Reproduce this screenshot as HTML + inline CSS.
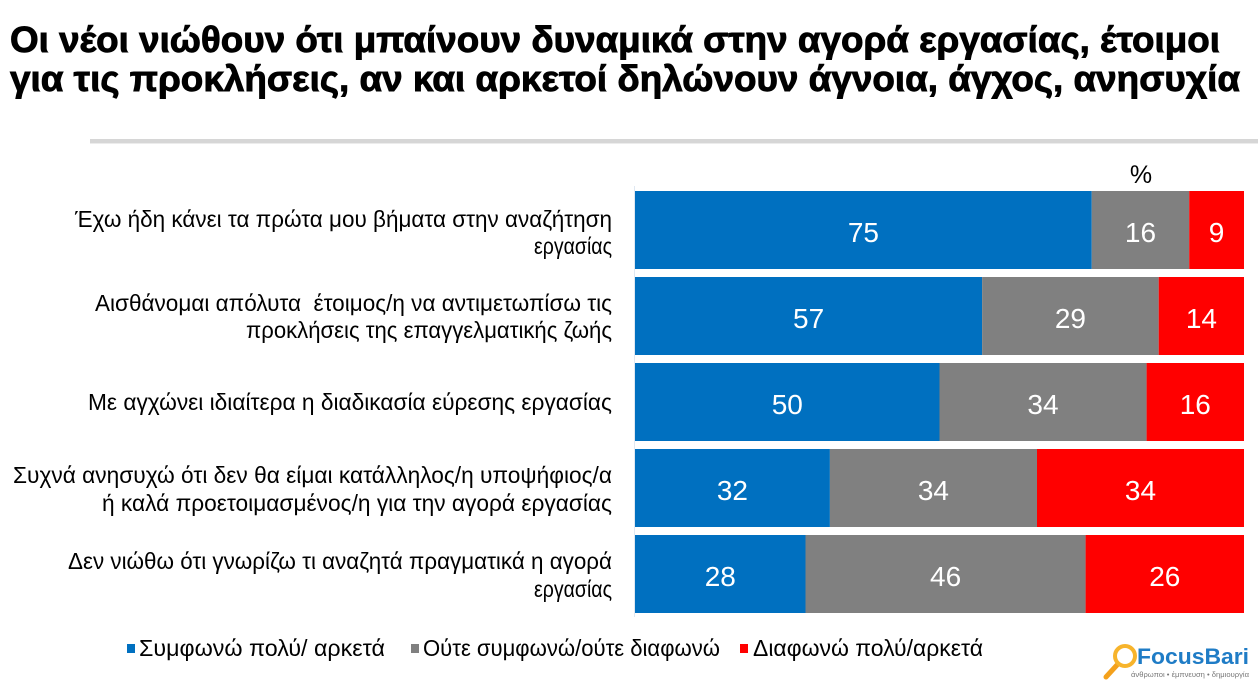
<!DOCTYPE html>
<html>
<head>
<meta charset="utf-8">
<style>
  html, body { margin:0; padding:0; background:#ffffff; }
  body { width:1258px; height:682px; overflow:hidden; }
  svg { display:block; }
  text { font-family: "Liberation Sans", "Noto Sans CJK SC", sans-serif; }
</style>
</head>
<body>
<svg width="1258" height="682" viewBox="0 0 1258 682" xmlns="http://www.w3.org/2000/svg">
  <rect x="0" y="0" width="1258" height="682" fill="#ffffff"/>

  <!-- Title -->
  <text x="10" y="52" font-size="36" font-weight="bold" fill="#000" stroke="#000" stroke-width="0.9" textLength="1210" lengthAdjust="spacingAndGlyphs">Οι νέοι νιώθουν ότι μπαίνουν δυναμικά στην αγορά εργασίας, έτοιμοι</text>
  <text x="10" y="91" font-size="36" font-weight="bold" fill="#000" stroke="#000" stroke-width="0.9" textLength="1230" lengthAdjust="spacingAndGlyphs">για τις προκλήσεις, αν και αρκετοί δηλώνουν άγνοια, άγχος, ανησυχία</text>

  <!-- separator line -->
  <rect x="90" y="139" width="1168" height="4" fill="#d6d6d6"/>
  <rect x="90" y="143" width="1168" height="1" fill="#ececec"/>

  <!-- % -->
  <text x="1141" y="183" font-size="25" fill="#000" text-anchor="middle">%</text>

  <!-- axis line -->
  <rect x="634" y="186" width="1" height="431" fill="#dfe8f2"/>

  <!-- Row 1 -->
  <rect x="635" y="191" width="456.75" height="78" fill="#0070C0"/>
  <rect x="1091.75" y="191" width="97.45" height="78" fill="#808080"/>
  <rect x="1189.2" y="191" width="54.8" height="78" fill="#FF0000"/>
  <!-- Row 2 -->
  <rect x="635" y="277" width="347.1" height="78" fill="#0070C0"/>
  <rect x="982.1" y="277" width="176.6" height="78" fill="#808080"/>
  <rect x="1158.7" y="277" width="85.3" height="78" fill="#FF0000"/>
  <!-- Row 3 -->
  <rect x="635" y="363" width="304.5" height="78" fill="#0070C0"/>
  <rect x="939.5" y="363" width="207.1" height="78" fill="#808080"/>
  <rect x="1146.6" y="363" width="97.4" height="78" fill="#FF0000"/>
  <!-- Row 4 -->
  <rect x="635" y="449" width="194.9" height="78" fill="#0070C0"/>
  <rect x="829.9" y="449" width="207.1" height="78" fill="#808080"/>
  <rect x="1037" y="449" width="207" height="78" fill="#FF0000"/>
  <!-- Row 5 -->
  <rect x="635" y="535" width="170.5" height="78" fill="#0070C0"/>
  <rect x="805.5" y="535" width="280.1" height="78" fill="#808080"/>
  <rect x="1085.6" y="535" width="158.4" height="78" fill="#FF0000"/>

  <!-- Values -->
  <g font-size="28" fill="#ffffff" text-anchor="middle">
    <text x="863.4" y="242">75</text>
    <text x="1140.5" y="242">16</text>
    <text x="1216.6" y="242">9</text>

    <text x="808.6" y="328">57</text>
    <text x="1070.4" y="328">29</text>
    <text x="1201.4" y="328">14</text>

    <text x="787.3" y="414">50</text>
    <text x="1043" y="414">34</text>
    <text x="1195.3" y="414">16</text>

    <text x="732.4" y="500">32</text>
    <text x="933.4" y="500">34</text>
    <text x="1140.5" y="500">34</text>

    <text x="720.3" y="586">28</text>
    <text x="945.6" y="586">46</text>
    <text x="1164.8" y="586">26</text>
  </g>

  <!-- Category labels -->
  <g font-size="23" fill="#000">
    <text x="75" y="227" textLength="537" lengthAdjust="spacingAndGlyphs">Έχω ήδη κάνει τα πρώτα μου βήματα στην αναζήτηση</text>
    <text x="534" y="254" textLength="78" lengthAdjust="spacingAndGlyphs">εργασίας</text>

    <text x="95" y="311" textLength="517" lengthAdjust="spacingAndGlyphs" style="white-space:pre">Αισθάνομαι απόλυτα  έτοιμος/η να αντιμετωπίσω τις</text>
    <text x="246" y="338" textLength="366" lengthAdjust="spacingAndGlyphs">προκλήσεις της επαγγελματικής ζωής</text>

    <text x="88" y="410" textLength="524" lengthAdjust="spacingAndGlyphs">Με αγχώνει ιδιαίτερα η διαδικασία εύρεσης εργασίας</text>

    <text x="13" y="483" textLength="599" lengthAdjust="spacingAndGlyphs">Συχνά ανησυχώ ότι δεν θα είμαι κατάλληλος/η υποψήφιος/α</text>
    <text x="102" y="511" textLength="510" lengthAdjust="spacingAndGlyphs">ή καλά προετοιμασμένος/η για την αγορά εργασίας</text>

    <text x="68" y="569" textLength="544" lengthAdjust="spacingAndGlyphs">Δεν νιώθω ότι γνωρίζω τι αναζητά πραγματικά η αγορά</text>
    <text x="534" y="597" textLength="78" lengthAdjust="spacingAndGlyphs">εργασίας</text>
  </g>

  <!-- Legend -->
  <rect x="127" y="644" width="8" height="9" fill="#0070C0"/>
  <text x="139" y="656" font-size="23" fill="#000" textLength="246" lengthAdjust="spacingAndGlyphs">Συμφωνώ πολύ/ αρκετά</text>
  <rect x="411" y="644" width="8" height="9" fill="#808080"/>
  <text x="423" y="656" font-size="23" fill="#000" textLength="297" lengthAdjust="spacingAndGlyphs">Ούτε συμφωνώ/ούτε διαφωνώ</text>
  <rect x="740" y="644" width="8" height="9" fill="#FF0000"/>
  <text x="753" y="656" font-size="23" fill="#000" textLength="230" lengthAdjust="spacingAndGlyphs">Διαφωνώ πολύ/αρκετά</text>

  <!-- Logo -->
  <line x1="1117" y1="665" x2="1106" y2="677" stroke="#f4a11c" stroke-width="5" stroke-linecap="round"/>
  <circle cx="1125" cy="656" r="10" fill="#fff" stroke="#f7b42c" stroke-width="4"/>
  <text x="1137" y="664" font-size="22" font-weight="bold" fill="#1f7cc6" textLength="112" lengthAdjust="spacingAndGlyphs">FocusBari</text>
  <text x="1131" y="677" font-size="7" fill="#777" textLength="118" lengthAdjust="spacingAndGlyphs">άνθρωποι • έμπνευση • δημιουργία</text>
</svg>
</body>
</html>
